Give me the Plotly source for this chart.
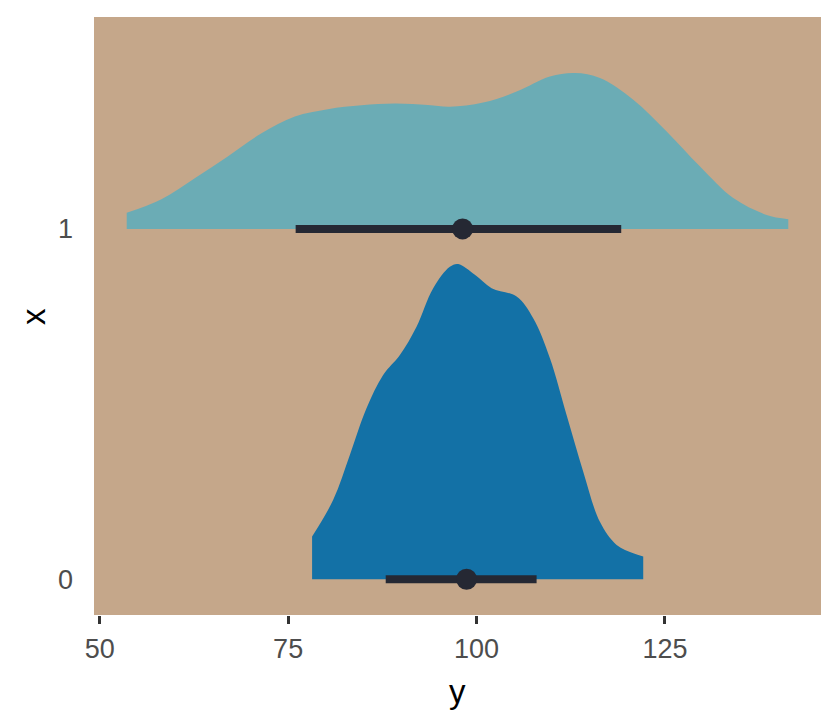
import plotly.graph_objects as go

# ---- data ----
groups = [0, 1]
group_labels = ["0", "1"]

# slab (density) for group 1 : x positions and scaled heights
x1_grid = [53.58, 58.19, 62.61, 66.99, 71.47, 75.89, 80.27, 84.74, 89.16, 93.54, 96.46,
           100.88, 105.32, 109.74, 113.06, 116.38, 120.80, 125.23, 129.66, 134.07, 138.50, 141.37]
dens1 = [0.046, 0.085, 0.145, 0.207, 0.273, 0.321, 0.342, 0.353, 0.358, 0.354, 0.349,
         0.361, 0.392, 0.435, 0.445, 0.431, 0.369, 0.278, 0.178, 0.088, 0.040, 0.028]

# slab (density) for group 0
x0_grid = [78.18, 80.97, 83.19, 85.40, 87.61, 89.83, 92.04, 94.25, 96.46, 97.56, 99.78,
           102.00, 105.32, 107.52, 109.74, 111.95, 114.16, 116.37, 118.59, 120.80, 122.12]
dens0 = [0.122, 0.226, 0.355, 0.488, 0.583, 0.640, 0.721, 0.831, 0.892, 0.900, 0.869,
         0.831, 0.807, 0.745, 0.631, 0.469, 0.307, 0.164, 0.098, 0.074, 0.065]

# point + interval
point_est = [98.68, 98.15]
int_lo = [87.95, 76.0]
int_hi = [107.97, 119.2]

x_ticks = [50, 75, 100, 125]

# ---- styles ----
panel_bg = "#C5A78A"
slab_colors = {0: "#1371A6", 1: "#6BACB5"}
ink = "#252833"

fig = go.Figure()

slabs = {0: (x0_grid, dens0), 1: (x1_grid, dens1)}
for g in [1, 0]:
    xs, ds = slabs[g]
    fig.add_trace(go.Scatter(x=[xs[0], xs[-1]], y=[g, g], mode="lines",
                             line=dict(width=0, color=slab_colors[g]),
                             showlegend=False, hoverinfo="skip"))
    fig.add_trace(go.Scatter(x=xs, y=[g + d for d in ds], mode="lines",
                             line=dict(width=0, color=slab_colors[g], shape="spline", smoothing=1.0),
                             fill="tonexty", fillcolor=slab_colors[g],
                             showlegend=False, hoverinfo="skip"))

for g, lo, hi, p in zip(groups, int_lo, int_hi, point_est):
    fig.add_trace(go.Scatter(x=[lo, hi], y=[g, g], mode="lines",
                             line=dict(width=8, color=ink), showlegend=False))
    fig.add_trace(go.Scatter(x=[p], y=[g], mode="markers",
                             marker=dict(size=21, color=ink, line=dict(width=0)),
                             showlegend=False))

font_family = "Liberation Sans, Arial, sans-serif"
fig.update_layout(
    width=840, height=720,
    margin=dict(l=94, r=19, t=17, b=105),
    paper_bgcolor="white",
    plot_bgcolor=panel_bg,
    font=dict(family=font_family),
    xaxis=dict(range=[49.24, 145.71], tickvals=x_ticks, ticktext=[str(t) for t in x_ticks],
               showgrid=False, zeroline=False, showline=False,
               ticks="outside", ticklen=8, tickwidth=2.5, tickcolor="#333333",
               tickfont=dict(size=27, color="#4D4D4D", family=font_family),
               ticklabelstandoff=2),
    yaxis=dict(range=[-0.102, 1.605], tickvals=groups, ticktext=group_labels,
               showgrid=False, zeroline=False, showline=False,
               ticks="", tickfont=dict(size=27, color="#4D4D4D", family=font_family),
               ticklabelstandoff=20),
    annotations=[
        dict(text="y", xref="paper", yref="paper", x=0.5, y=-0.094, xanchor="center",
             yanchor="top", showarrow=False, font=dict(size=33, color="black", family=font_family)),
        dict(text="x", xref="paper", yref="paper", x=-0.084, y=0.5, xanchor="center",
             yanchor="middle", textangle=-90, showarrow=False,
             font=dict(size=33, color="black", family=font_family)),
    ],
)

fig.write_html("out.html", config={"displayModeBar": False},
               post_script="document.body.style.margin='0';")
